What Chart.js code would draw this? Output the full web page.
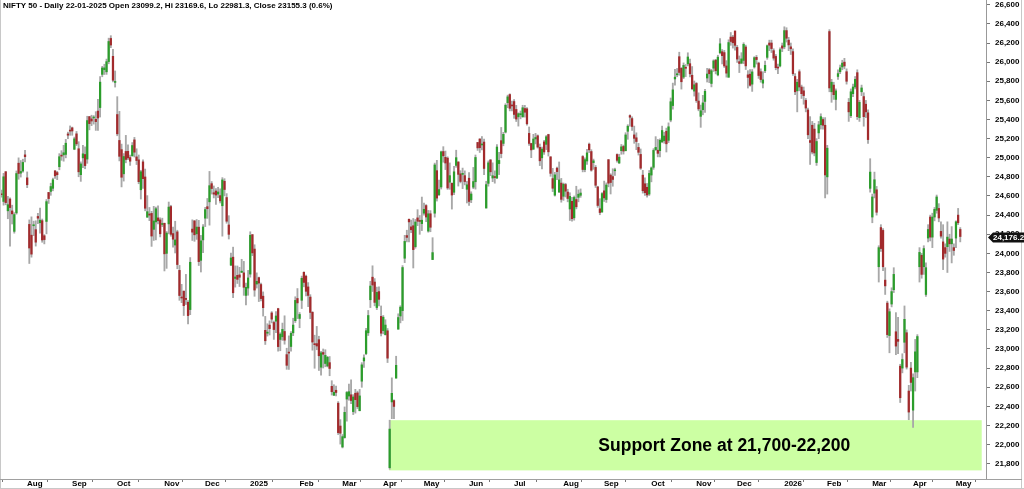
<!DOCTYPE html>
<html>
<head>
<meta charset="utf-8">
<title>NIFTY 50 - Daily</title>
<script src="https://cdn.jsdelivr.net/npm/chart.js@4.4.1/dist/chart.umd.min.js"></script>
<style>
    html, body { margin: 0; padding: 0; background: #ffffff; }
    canvas { display: block; }
</style>
</head>
<body>
<canvas id="grafico-nifty" width="1024" height="489"></canvas>
<script>
// trading calendar (NSE): weekdays minus holidays, plus weekend special sessions
const FIRST_DAY = '2024-07-16';
const HOLIDAYS = [
    '2024-07-17', '2024-08-15', '2024-10-02', '2024-11-15', '2024-11-20', '2024-12-25',
    '2025-02-26', '2025-03-14', '2025-03-31', '2025-04-10', '2025-04-14', '2025-04-18',
    '2025-05-01', '2025-08-15', '2025-08-27', '2025-10-02', '2025-10-22', '2025-11-05',
    '2025-12-25', '2026-01-15', '2026-01-26', '2026-03-03', '2026-03-26', '2026-03-31',
    '2026-04-03', '2026-04-14', '2026-05-01'
];
const SPECIAL_SESSIONS = ['2025-02-01', '2026-02-01'];

const open = [
    24615, 24543, 24854, 24445, 24568, 24444, 24230, 24423, 24943, 24839, 24861, // jul 24
    25030, 24790, 24303, 24190, 24289, 24248, 24386, 24320, 24342, 24184, 24334, 24637, 24648, 24680, 24863, 24845, 24906, 25025, 25030, 25035, 25249, // aug
    25283, 25313, 25089, 25250, 25094, 24823, 24999, 25034, 24986, 25430, 25406, 25416, 25402, 25488, 25525, 25872, 25921, 25899, 26006, 26248, 26061, // sep
    25788, 25452, 25181, 25085, 24832, 25066, 25067, 25002, 25019, 25187, 25009, 24978, 24665, 24957, 24799, 24378, 24412, 24418, 24251, 24329, 24371, 24350, // oct
    24302, 24315, 24000, 24308, 24490, 24207, 24087, 24225, 23822, 23543, 23605, 23529, 23488, 23412, 24254, 24340, 24204, 24274, 23927, // nov
    24141, 24368, 24488, 24539, 24729, 24634, 24652, 24620, 24604, 24498, 24754, 24584, 24297, 23877, 23960, 23738, 23770, 23775, 23801, 23796, 23560, // dec
    23637, 23783, 24196, 24045, 23679, 23746, 23674, 23552, 23195, 23165, 23250, 23377, 23277, 23291, 23422, 23099.2, 23128, 23183, 22941, 22961, 23026, 23169, 23296, // jan 25
    23528, 23319, 23509, 23802, 23761, 23649, 23543, 23383, 23050, 23056, 23097, 22809, 22963, 22848, 22822, 22857, 22609, 22516, 22568, 22433, // feb
    22194, 21975, 22073, 22476, 22508, 22521, 22345, 22537, 22541, 22354, 22663, 22875, 22952, 23169, 23515, 23751, 23700, 23433, 23600, // mar
    23341, 23192, 23150, 23190, 21758, 22446, 22460, 22695, 23207, 23345, 23401, 23949, 24186, 24357, 24277, 24289, 24070, 24371, 24342, // apr
    24311, 24420, 24500, 24233, 24414, 23935, 24420, 24865, 24614, 24694, 25065, 25005, 24996, 24744, 24733, 24639, 24920, 24956, 24832, 24826, 24813, // may
    24670, 24786, 24560, 24692, 24749, 25160, 25196, 25134, 25164, 24474, 24732, 24977, 24788, 24803, 24787, 24939, 25179, 25150, 25268, 25576, 25661, // jun
    25551, 25588, 25505, 25428, 25450, 25428, 25515, 25512, 25255, 25149, 25089, 25197, 25230, 25109, 24999, 25166, 25140, 25243, 25010, 24782, 24609, 24891, 24642, // jul
    24735, 24597, 24720, 24641, 24464, 24544, 24372, 24563, 24586, 24607, 25013, 24876, 24966, 25142, 25065, 24949, 24899, 24695, 24466, // aug
    24432, 24654, 24563, 24980, 24819, 24803, 24864, 25034, 24945, 25074, 25118, 25073, 25277, 25441, 25410, 25239, 25209, 25108, 25035, 24818, 24728, 24691, // sep
    24620, 24819, 24900, 25085, 25079, 25074, 25167, 25178, 25277, 25182, 25394, 25546, 25824, 25868, 26057, 25935, 25843, 25940, 25982, 25984, 25863, // oct
    25697, 25777, 25593, 25433, 25503, 25589, 25834, 25920, 25777, 25937, 26021, 25867, 26098, 26109, 26100, 25960, 25842, 26262, 26262, // nov
    26326, 26154, 26005, 25990, 26018, 26159, 25867, 25874, 25770, 25950, 26050, 25990, 25900, 25780, 25910, 26050, 26200, 26200, 26120, 26060, 25940, 25960, // dec
    26170, 26160, 26330, 26230, 26160, 26110, 25850, 25700, 25900, 25740, 25700, 25600, 25500, 25180, 25340, 25300, 24950, 25260, 25345, 25400, // jan 26
    25340, 24800, 26320, 25690, 25760, 25610, 25850, 25900, 25950, 26000, 25900, 25580, 25440, 25670, 25740, 25890, 25420, 25690, 25640, 25560, 25470, // feb
    24680, 24380, 24630, 24665, 23860, 24270, 24240, 23720, 23480, 23140, 23470, 23620, 23180, 23100, 22820, 22800, 23070, 23170, 22560, // mar
    22800, 22360, 22760, 22760, 23860, 23980, 23860, 23570, 24160, 24380, 24170, 24380, 24450, 24470, 24230, 24120, 24060, 24070, 24150, 24100, // apr
    24060, 24160, 24400, 24250 // may
];
const high = [
    24662, 24837, 24855, 24596, 24582, 24504, 24426, 24862, 24999, 24971, 24985,
    25078, 24852, 24350, 24382, 24337, 24341, 24419, 24473, 24359, 24196, 24563, 24638, 24734, 24787, 24867, 24858, 25043, 25074, 25130, 25192, 25268,
    25333, 25321, 25216, 25275, 25168, 24957, 25130, 25114, 25434, 25433, 25445, 25441, 25482, 25611, 25849, 25956, 25978, 26032, 26251, 26277, 26135,
    25908, 25639, 25485, 25143, 25044, 25234, 25134, 25028, 25159, 25213, 25094, 25029, 24869, 24979, 24882, 24604, 24480, 24440, 24492, 24484, 24498, 24372,
    24368, 24316, 24229, 24537, 24503, 24276, 24336, 24242, 23874, 23676, 23606, 23780, 23507, 23956, 24351, 24343, 24354, 24345, 24188,
    24301, 24481, 24574, 24857, 24751, 24705, 24677, 24691, 24675, 24792, 24781, 24625, 24394, 24004, 24065, 23869, 23868, 23854, 23938, 23916, 23690,
    23822, 24226, 24196, 24090, 23796, 23752, 23690, 23597, 23341, 23264, 23294, 23391, 23292, 23391, 23426, 23169.6, 23271, 23347, 23008, 23137, 23183, 23322, 23546,
    23632, 23381, 23762, 23807, 23773, 23694, 23568, 23391, 23144, 23236, 23133, 22975, 23000, 22992, 22923, 22921, 22668, 22626, 22613, 22450,
    22261, 22105, 22394, 22556, 22633, 22677, 22522, 22578, 22559, 22577, 22857, 22940, 23216, 23403, 23708, 23870, 23736, 23647, 23649,
    23450, 23350, 23306, 23214, 22255, 22698, 22468, 22924, 23368, 23452, 23872, 24189, 24242, 24359, 24348, 24365, 24355, 24457, 24396,
    24589, 24526, 24510, 24449, 24447, 24164, 24944, 24973, 24767, 25070, 25116, 25070, 25010, 24946, 24737, 24909, 25079, 24958, 24865, 24892, 24863,
    24754, 24845, 24644, 24899, 25029, 25160, 25199, 25222, 25196, 24754, 24967, 24982, 24947, 24863, 25137, 25057, 25317, 25266, 25565, 25655, 25669,
    25593, 25609, 25548, 25470, 25489, 25549, 25548, 25525, 25322, 25152, 25245, 25255, 25239, 25144, 25111, 25182, 25233, 25246, 25010, 24889, 24848, 24902, 24956,
    24784, 24736, 24733, 24671, 24634, 24586, 24600, 24702, 24664, 24674, 25023, 24999, 25089, 25154, 25084, 24986, 24919, 24702, 24572,
    24636, 24756, 24737, 24981, 24833, 24885, 24891, 25040, 25037, 25139, 25132, 25262, 25346, 25449, 25429, 25331, 25261, 25150, 25092, 24868, 24791, 24731,
    24867, 24904, 25095, 25221, 25192, 25199, 25331, 25267, 25310, 25365, 25625, 25781, 25926, 25934, 26104, 25944, 25992, 25975, 26098, 26033, 25954,
    25803, 25787, 25679, 25551, 25653, 25715, 25935, 25934, 25924, 26025, 26030, 26072, 26246, 26132, 26123, 26016, 26234, 26310, 26280,
    26326, 26175, 26065, 26099, 26203, 26178, 25911, 25923, 25923, 26057, 26070, 26000, 25930, 25900, 26010, 26180, 26230, 26230, 26140, 26080, 25980, 26150,
    26200, 26370, 26360, 26260, 26200, 26140, 25880, 25820, 25920, 25760, 25740, 25620, 25520, 25430, 25380, 25360, 25200, 25380, 25460, 25420,
    25420, 25130, 26340, 25820, 25790, 25720, 25920, 25970, 26020, 26040, 25930, 25620, 25720, 25770, 25850, 25920, 25600, 25760, 25680, 25600, 25500,
    24990, 24620, 24850, 24700, 24080, 24300, 24260, 23850, 23500, 23420, 23640, 23850, 23380, 23330, 22840, 22950, 23450, 23200, 22620,
    22860, 22740, 23100, 23150, 24060, 24000, 24080, 23900, 24300, 24400, 24420, 24480, 24610, 24520, 24330, 24300, 24100, 24330, 24200, 24280,
    24100, 24340, 24470, 24270
];
const low = [
    24587, 24504, 24508, 24362, 24074, 24307, 24211, 24410, 24775, 24798, 24848,
    24956, 24687, 23894, 23960, 24185, 24076, 24311, 24212, 24116, 24099, 24204, 24522, 24607, 24654, 24784, 24771, 24874, 24973, 24964, 24999, 25199,
    25235, 25235, 25084, 25127, 24801, 24753, 24896, 24885, 24942, 25292, 25336, 25352, 25286, 25287, 25426, 25847, 25871, 25872, 25983, 26151, 25794,
    25739, 25230, 24967, 24695, 24756, 24947, 24979, 24920, 25018, 25008, 24929, 24728, 24568, 24679, 24445, 24378, 24342, 24073, 24135, 24141, 24307, 24172,
    24280, 23816, 23843, 24204, 24179, 24066, 24004, 23839, 23509, 23484, 23350, 23465, 23263, 23359, 24135, 24126, 24146, 23873, 23805,
    24008, 24280, 24366, 24295, 24620, 24580, 24511, 24583, 24527, 24180, 24601, 24315, 24150, 23870, 23537, 23647, 23685, 23653, 23800, 23561, 23460,
    23562, 23751, 23976, 23551, 23637, 23496, 23503, 23344, 23047, 23135, 23146, 23273, 23100, 23170, 22977, 22981.3, 23090, 23050, 22787, 22786, 22976, 23139, 23277,
    23318, 23222, 23423, 23650, 23556, 23443, 23316, 22987, 22798, 22992, 22775, 22725, 22801, 22814, 22812, 22720, 22518, 22513, 22508, 22105,
    22005, 21965, 22067, 22245, 22464, 22429, 22314, 22329, 22377, 22353, 22599, 22808, 22940, 23141, 23433, 23601, 23451, 23412, 23451,
    23136, 23158, 23145, 22858, 21743, 22271, 22270, 22695, 23207, 23273, 23298, 23903, 24120, 24119, 24216, 23847, 24054, 24290, 24199,
    24238, 24400, 24331, 24221, 24226, 23935, 24379, 24547, 24603, 24673, 24953, 24876, 24669, 24670, 24463, 24614, 24900, 24704, 24737, 24677, 24716,
    24527, 24502, 24530, 24676, 24672, 25077, 25055, 25082, 24824, 24474, 24703, 24813, 24750, 24734, 24784, 24824, 24999, 25125, 25259, 25523, 25490,
    25489, 25412, 25379, 25331, 25407, 25424, 25425, 25340, 25129, 25001, 25089, 25145, 25101, 24918, 24882, 25035, 25085, 25018, 24806, 24646, 24599, 24771, 24635,
    24535, 24554, 24590, 24539, 24344, 24337, 24347, 24465, 24539, 24586, 24852, 24853, 24929, 25054, 24859, 24879, 24689, 24481, 24404,
    24432, 24543, 24533, 24696, 24621, 24702, 24815, 24954, 24940, 25036, 25038, 25073, 25193, 25330, 25286, 25151, 25084, 25028, 24878, 24630, 24606, 24588,
    24605, 24748, 24879, 25076, 25009, 25009, 25157, 25152, 25060, 25159, 25376, 25508, 25758, 25847, 25863, 25718, 25827, 25849, 25961, 25845, 25711,
    25645, 25579, 25491, 25318, 25449, 25474, 25792, 25785, 25741, 25902, 25877, 25857, 26085, 25981, 25944, 25843, 25842, 26176, 26147,
    26124, 25997, 25891, 25983, 25985, 25923, 25729, 25748, 25694, 25938, 25980, 25830, 25790, 25730, 25890, 26030, 26120, 26100, 26020, 25920, 25880, 25950,
    26110, 26140, 26210, 26120, 26080, 25860, 25660, 25480, 25700, 25620, 25560, 25480, 25200, 24930, 25040, 25020, 24920, 25200, 25300, 25300,
    24580, 24620, 25690, 25580, 25610, 25500, 25820, 25880, 25920, 25930, 25770, 25380, 25420, 25640, 25720, 25400, 25380, 25650, 25330, 25420, 25150,
    24640, 24320, 24580, 24400, 23700, 24020, 23820, 23570, 23120, 22960, 23440, 23590, 22940, 22950, 22440, 22750, 22960, 22790, 22260,
    22560, 22180, 22560, 22700, 23700, 23740, 23780, 23550, 24120, 24130, 24060, 24340, 24420, 24330, 24160, 23830, 23960, 23800, 24020, 23900,
    23980, 24060, 24300, 24120
];
const close = [
    24613, 24801, 24531, 24509, 24479, 24413, 24406, 24835, 24836, 24857, 24951,
    25011, 24718, 24056, 23992, 24297, 24117, 24368, 24347, 24140, 24144, 24541, 24573, 24699, 24770, 24811, 24823, 25011, 25017, 25052, 25152, 25236,
    25279, 25280, 25198, 25145, 24853, 24936, 25041, 24918, 25389, 25357, 25384, 25419, 25378, 25416, 25791, 25939, 25940, 26005, 26216, 26179, 25811,
    25797, 25250, 25015, 24796, 25013, 24982, 24998, 24964, 25128, 25058, 24971, 24750, 24854, 24781, 24472, 24436, 24400, 24181, 24339, 24467, 24341, 24205,
    24304, 23995, 24213, 24484, 24199, 24148, 24141, 23883, 23559, 23533, 23453, 23518, 23349, 23907, 24222, 24194, 24275, 23914, 24131,
    24276, 24458, 24467, 24708, 24678, 24620, 24610, 24642, 24549, 24768, 24668, 24336, 24199, 23952, 23588, 23753, 23728, 23750, 23814, 23645, 23645,
    23743, 24189, 24005, 23616, 23708, 23689, 23527, 23432, 23086, 23176, 23213, 23312, 23203, 23345, 23024.7, 23155.3, 23205, 23092, 22829, 22957, 23163, 23250, 23508,
    23482, 23361, 23739, 23696, 23603, 23560, 23382, 23072, 23045, 23031, 22929, 22960, 22945, 22933, 22913, 22796, 22553, 22547, 22545, 22125,
    22119, 22083, 22337, 22545, 22553, 22461, 22498, 22470, 22397, 22509, 22834, 22907, 23191, 23350, 23658, 23669, 23487, 23592, 23519,
    23165, 23332, 23250, 22904, 22162, 22536, 22399, 22829, 23329, 23437, 23852, 24125, 24167, 24329, 24247, 24039, 24328, 24336, 24334,
    24347, 24461, 24380, 24414, 24273, 24008, 24925, 24578, 24667, 25062, 25020, 24945, 24684, 24813, 24610, 24853, 25001, 24826, 24752, 24834, 24751,
    24717, 24543, 24621, 24751, 25003, 25103, 25105, 25141, 24888, 24719, 24947, 24853, 24812, 24793, 25112, 24972, 25044, 25245, 25549, 25637, 25517,
    25542, 25453, 25405, 25461, 25461, 25523, 25476, 25355, 25150, 25082, 25196, 25212, 25112, 24968, 25091, 25061, 25220, 25062, 24837, 24681, 24821, 24855, 24768,
    24565, 24723, 24650, 24574, 24596, 24363, 24585, 24487, 24619, 24631, 24877, 24980, 25051, 25083, 24870, 24968, 24712, 24501, 24427,
    24625, 24580, 24715, 24734, 24741, 24773, 24869, 24973, 25006, 25114, 25070, 25239, 25330, 25424, 25327, 25203, 25170, 25057, 24891, 24655, 24635, 24611,
    24836, 24894, 25077, 25108, 25046, 25182, 25285, 25227, 25146, 25324, 25586, 25710, 25843, 25869, 25892, 25795, 25966, 25936, 26054, 25878, 25722,
    25763, 25598, 25510, 25492, 25574, 25695, 25876, 25879, 25910, 26013, 25910, 26052, 26192, 26068, 25960, 25885, 26205, 26216, 26203,
    26176, 26032, 25986, 26034, 26186, 25961, 25840, 25758, 25898, 26047, 26027, 25860, 25818, 25815, 25966, 26172, 26177, 26142, 26042, 25942, 25938, 26130,
    26146, 26330, 26250, 26180, 26140, 25880, 25690, 25790, 25740, 25670, 25650, 25520, 25240, 25160, 25060, 25050, 25170, 25345, 25430, 25340,
    24820, 25100, 25730, 25790, 25660, 25700, 25880, 25940, 25990, 25960, 25800, 25480, 25690, 25740, 25820, 25430, 25580, 25730, 25430, 25480, 25190,
    24850, 24590, 24770, 24430, 24060, 24050, 23860, 23660, 23150, 23390, 23600, 23780, 23030, 23080, 22490, 22890, 23310, 22810, 22340,
    22650, 22700, 22970, 23130, 24010, 23780, 24050, 23850, 24250, 24170, 24380, 24460, 24590, 24370, 24180, 23940, 24000, 24170, 24100, 24150,
    24030, 24330, 24320, 24176.2
];

const Y_TICKS = [21800, 26600, 200]; // first, last, step
const CURSOR_DATE = '2025-01-22';
const SUPPORT = { from: '2025-04-07', labelAt: '2025-11-24', low: 21730, high: 22255, text: 'Support Zone at 21,700-22,200' };

const MONTHS = ['Jan', 'Feb', 'Mar', 'Apr', 'May', 'Jun', 'Jul', 'Aug', 'Sep', 'Oct', 'Nov', 'Dec'];
const GREEN = '#2b9d2b';
const RED = '#a22a2c';
const WICK = '#a8a8a8';
const FONT = 'Arial, "Liberation Sans", sans-serif';

function tradingDays(count) {
    const days = [];
    const d = new Date(FIRST_DAY + 'T00:00:00Z');
    while (days.length < count) {
        const iso = d.toISOString().slice(0, 10);
        const wd = d.getUTCDay();
        if ((wd > 0 && wd < 6 && !HOLIDAYS.includes(iso)) || SPECIAL_SESSIONS.includes(iso)) days.push(iso);
        d.setUTCDate(d.getUTCDate() + 1);
    }
    return days;
}

const N = close.length;
const dates = tradingDays(N);
const monthStarts = [];
for (let i = 1; i < N; i++) {
    if (dates[i].slice(0, 7) !== dates[i - 1].slice(0, 7)) monthStarts.push(i);
}

const wicks = close.map((c, i) => ({ x: i, y: [low[i], high[i]] }));
const bodies = close.map((c, i) => ({ x: i, y: [open[i], c] }));
const bodyColors = close.map((c, i) => (c >= open[i] ? GREEN : RED));

function fmt(v, digits) {
    return v.toLocaleString('en-US', { minimumFractionDigits: digits, maximumFractionDigits: digits });
}

const overlay = {
    id: 'overlay',
    beforeDatasetsDraw(chart) {
        const { ctx, scales: { x, y } } = chart;
        const x0 = x.getPixelForValue(dates.indexOf(SUPPORT.from) - 0.3);
        const x1 = x.getPixelForValue(N - 1 + 10);
        const y0 = y.getPixelForValue(SUPPORT.high);
        const y1 = y.getPixelForValue(SUPPORT.low);
        ctx.save();
        ctx.fillStyle = '#ccffa3';
        ctx.fillRect(x0, y0, x1 - x0, y1 - y0);
        ctx.restore();
    },
    afterDatasetsDraw(chart) {
        const { ctx, scales: { x, y } } = chart;
        ctx.save();
        ctx.fillStyle = '#000';
        ctx.font = 'bold 17.5px ' + FONT;
        ctx.textAlign = 'center';
        ctx.textBaseline = 'middle';
        ctx.fillText(SUPPORT.text, x.getPixelForValue(dates.indexOf(SUPPORT.labelAt)),
            y.getPixelForValue((SUPPORT.low + SUPPORT.high) / 2) + 1);
        ctx.restore();
    },
    afterDraw(chart) {
        const { ctx, chartArea, scales: { y } } = chart;
        const W = chart.width, H = chart.height;
        ctx.save();

        // frame
        ctx.strokeStyle = '#c8c8c8';
        ctx.lineWidth = 1;
        ctx.beginPath();
        ctx.moveTo(0.5, 0); ctx.lineTo(0.5, H);
        ctx.moveTo(W - 2.5, 0); ctx.lineTo(W - 2.5, H);
        ctx.moveTo(0, H - 0.5); ctx.lineTo(W, H - 0.5);
        ctx.stroke();
        ctx.strokeStyle = '#a0a0a0';
        ctx.beginPath();
        ctx.moveTo(0, chartArea.bottom + 0.5); ctx.lineTo(W - 2, chartArea.bottom + 0.5);
        ctx.stroke();

        // header line with the cursor bar
        const ci = dates.indexOf(CURSOR_DATE);
        const [yy, mm, dd] = CURSOR_DATE.split('-');
        const pct = ((close[ci] - close[ci - 1]) / close[ci - 1] * 100).toFixed(1);
        const header = 'NIFTY 50 - Daily ' + dd + '-' + mm + '-' + yy +
            ' Open ' + open[ci].toFixed(1) + ', Hi ' + high[ci].toFixed(1) +
            ', Lo ' + low[ci].toFixed(1) + ', Close ' + close[ci].toFixed(1) + ' (' + pct + '%)';
        ctx.fillStyle = '#000';
        ctx.font = 'bold 8px ' + FONT;
        ctx.textAlign = 'left';
        ctx.textBaseline = 'middle';
        ctx.fillText(header, 3, 6);

        // last price tag
        const last = close[N - 1];
        const py = Math.round(y.getPixelForValue(last)) + 0.5;
        const tip = chartArea.right + 2;
        ctx.fillStyle = '#111';
        ctx.beginPath();
        ctx.moveTo(tip, py);
        ctx.lineTo(tip + 5, py - 5);
        ctx.lineTo(W, py - 5);
        ctx.lineTo(W, py + 5);
        ctx.lineTo(tip + 5, py + 5);
        ctx.closePath();
        ctx.fill();
        ctx.fillStyle = '#fff';
        ctx.fillText(fmt(last, 1), tip + 5, py + 0.5);
        ctx.restore();
    }
};

const CHART = document.getElementById('grafico-nifty');
const config = new Chart(CHART, {
    type: 'bar',
    data: {
        datasets: [
            {
                label: 'Body',
                data: bodies,
                backgroundColor: bodyColors,
                barThickness: 1.6,
                minBarLength: 1,
                grouped: false,
                order: 0
            },
            {
                label: 'Range',
                data: wicks,
                backgroundColor: WICK,
                barThickness: 1.2,
                grouped: false,
                order: 1
            }
        ]
    },
    options: {
        responsive: false,
        animation: false,
        layout: { padding: { left: 1, right: 0, top: 0, bottom: 0 } },
        plugins: {
            legend: { display: false },
            tooltip: { enabled: false }
        },
        scales: {
            x: {
                type: 'linear',
                min: -0.2,
                max: 459,
                offset: false,
                grid: { drawOnChartArea: false, drawTicks: true, tickLength: 3, tickColor: '#777' },
                border: { display: true, color: '#a0a0a0' },
                afterBuildTicks: (axis) => {
                    axis.ticks = monthStarts.map(v => ({ value: v }));
                },
                afterFit: (axis) => {
                    axis.height = 10;
                    axis.paddingLeft = 0;
                    axis.paddingRight = 0;
                },
                ticks: {
                    autoSkip: false,
                    maxRotation: 0,
                    align: 'start',
                    labelOffset: 2,
                    padding: -2.5,
                    color: '#000',
                    font: { family: FONT, size: 8, weight: 'bold', lineHeight: 1 },
                    callback: (value) => {
                        const d = dates[value];
                        if (!d) return '';
                        const m = Number(d.slice(5, 7));
                        return m === 1 ? d.slice(0, 4) : MONTHS[m - 1];
                    }
                }
            },
            y: {
                type: 'linear',
                position: 'right',
                min: 21640,
                max: 26650,
                grid: { drawOnChartArea: false, drawTicks: true, tickLength: 4, tickColor: '#777' },
                border: { display: true, color: '#999', dash: [1, 1] },
                afterBuildTicks: (axis) => {
                    const t = [];
                    for (let v = Y_TICKS[0]; v <= Y_TICKS[1]; v += Y_TICKS[2]) t.push({ value: v });
                    axis.ticks = t;
                },
                afterFit: (axis) => {
                    axis.width = 38;
                    axis.paddingTop = 0;
                    axis.paddingBottom = 0;
                },
                ticks: {
                    padding: 5,
                    color: '#000',
                    font: { family: FONT, size: 8, weight: 'bold' },
                    callback: (value) => fmt(value, 0)
                }
            }
        }
    },
    plugins: [overlay]
});
</script>
</body>
</html>
